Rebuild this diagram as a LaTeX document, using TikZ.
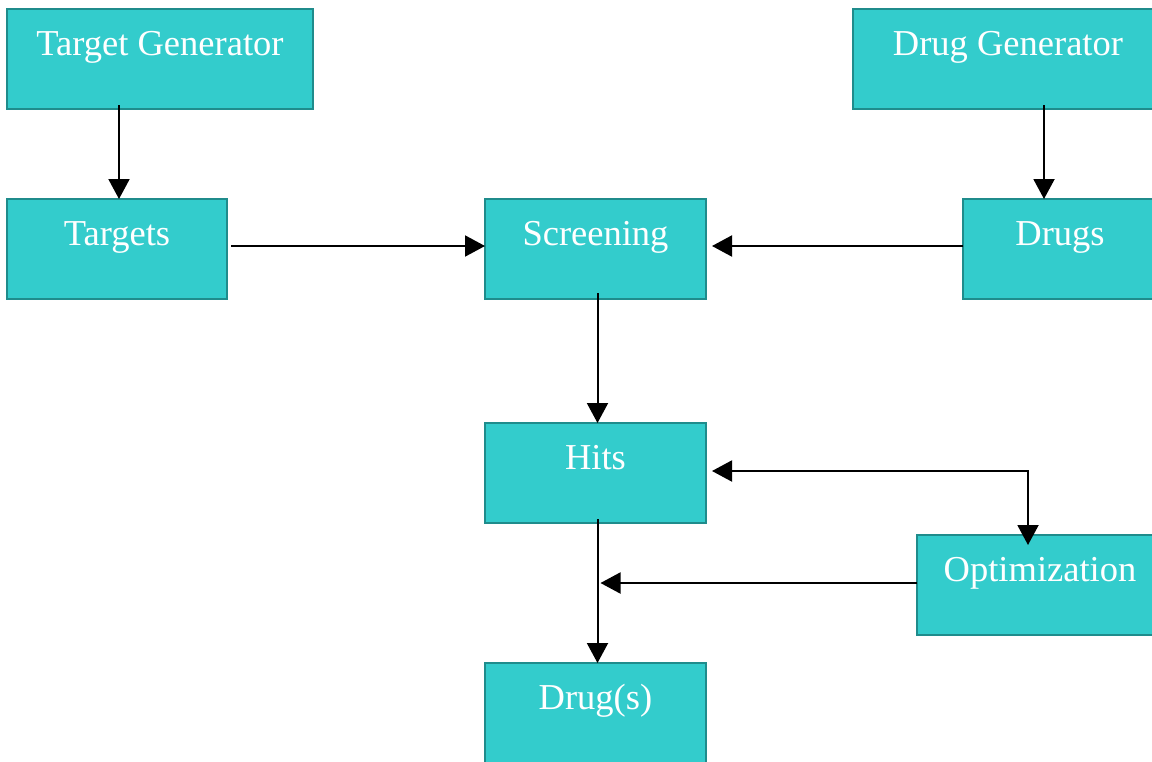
\documentclass[tikz,border=0pt]{standalone}
\usepackage{fontspec}
\setmainfont{Liberation Serif}
\usetikzlibrary{arrows.meta,calc}
\definecolor{boxfill}{HTML}{33CCCC}
\definecolor{boxline}{HTML}{1F8C8C}
\begin{document}
\begin{tikzpicture}[x=1pt,y=-1pt,
  box/.style={draw=boxline,line width=1.5pt,fill=boxfill,text=white,
    inner sep=0pt,outer sep=0pt,anchor=north west,
    text height=46pt,text depth=54pt,
    font=\fontsize{36.5}{40}\selectfont},
  arr/.style={line width=2pt,-{Triangle[length=20pt,width=21pt]}},
  arrs/.style={line width=2pt,{Triangle[length=20pt,width=21pt]}-{Triangle[length=20pt,width=21pt]}}]
\clip (0,0) rectangle (1152,761);
\fill[white] (0,0) rectangle (1152,761);
\node[box,minimum width=306pt] (tg) at (7,9) {Target Generator};
\node[box,minimum width=310pt] (dg) at (853,9) {Drug Generator};
\node[box,minimum width=220pt] (targets) at (7,199) {Targets};
\node[box,minimum width=221pt] (scr) at (485,199) {Screening};
\node[box,minimum width=194pt] (drugs) at (963,199) {Drugs};
\node[box,minimum width=221pt] (hits) at (485,423) {Hits};
\node[box,minimum width=246pt] (opt) at (917,535) {Optimization};
\node[box,minimum width=221pt,text depth=80pt] (out) at (485,663) {Drug(s)};
% connectors
\draw[arr] ([xshift=2pt,yshift=4pt]tg.south -| targets.north) -- ([xshift=2pt]targets.north);
\draw[arr] ([xshift=81pt,yshift=4pt]drugs.north west |- dg.south) -- ([xshift=81pt]drugs.north west);
\draw[arr] ([xshift=4pt,yshift=3pt]targets.east) -- ([yshift=3pt]scr.west);
\draw[arr] ([yshift=3pt]drugs.west) -- ([xshift=6pt,yshift=3pt]scr.east);
\draw[arr] ([xshift=2pt,yshift=6pt]scr.south) -- ([xshift=2pt]hits.north);
\draw[arrs] ([xshift=6pt,yshift=2pt]hits.east) -| ([xshift=111pt,yshift=-10pt]opt.north west);
\draw[arr] ([xshift=2pt,yshift=4pt]hits.south) -- ([xshift=2pt]out.north);
\coordinate[xshift=5pt,yshift=2pt] (j) at (hits.south |- opt.west);
\draw[arr] ([yshift=2pt]opt.west) -- (j);
\end{tikzpicture}
\end{document}
